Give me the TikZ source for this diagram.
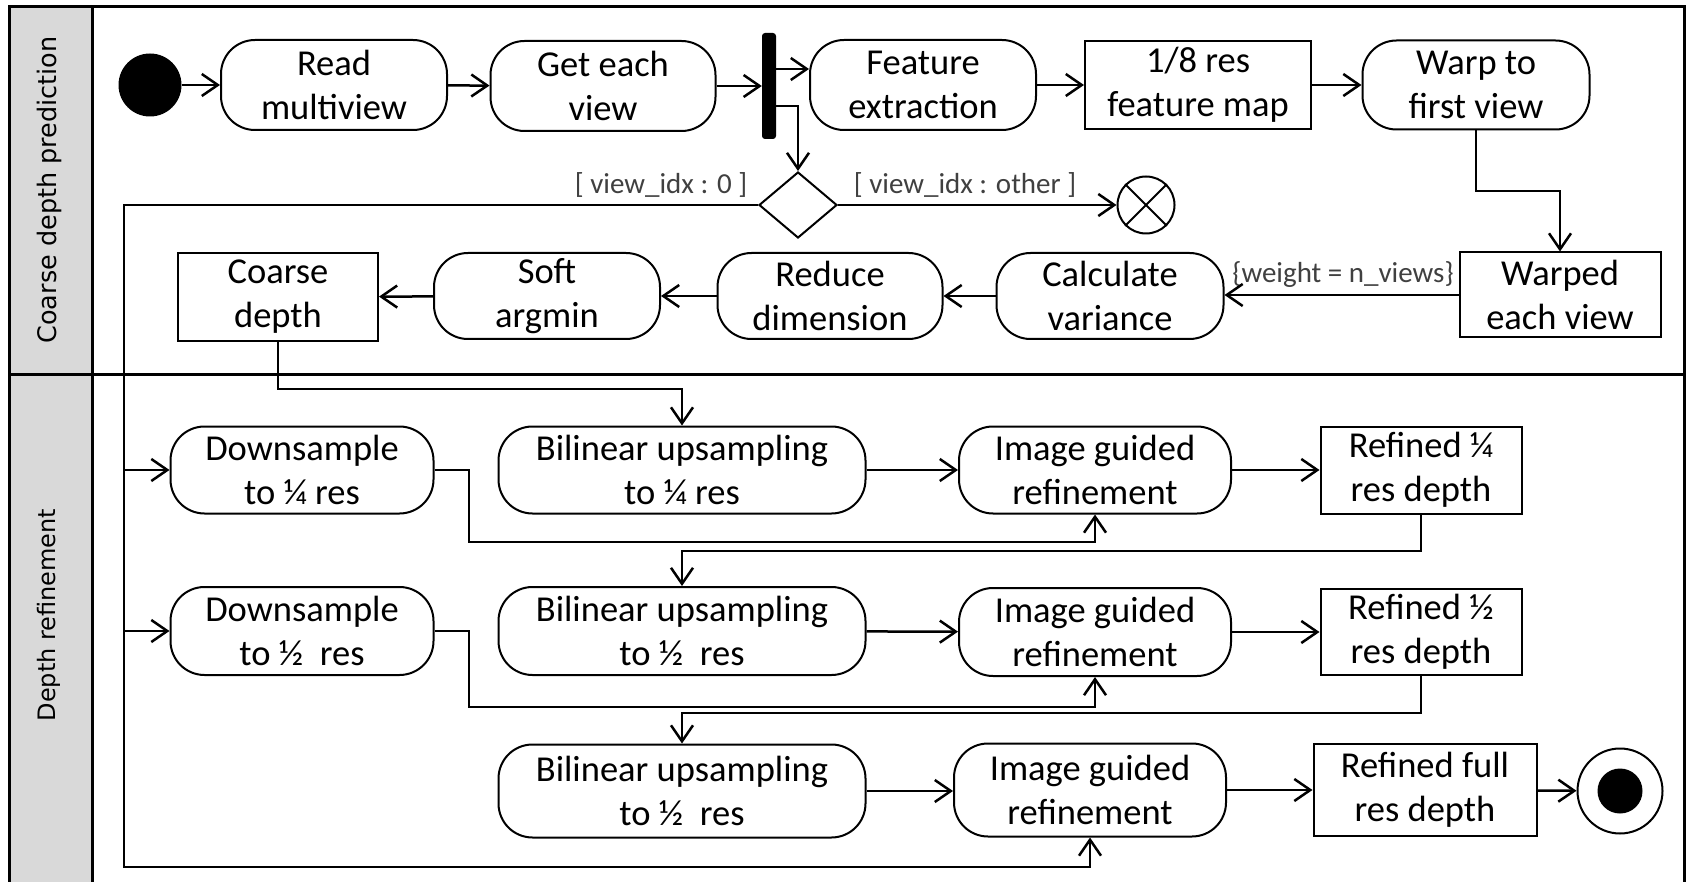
\documentclass[tikz,border=0pt]{standalone}
\usepackage{fontspec}
\setmainfont{Carlito}
\newfontfamily\lanefam{DejaVu Sans}
\usetikzlibrary{arrows.meta,shapes.geometric,calc}
\definecolor{lanegray}{HTML}{D9D9D9}
\definecolor{guardgray}{HTML}{404040}
\newcommand\actfont{\fontsize{36.5}{44}\selectfont}
\newcommand\grdfont{\fontsize{29}{34}\selectfont}
\newcommand\lnfont{\lanefam\fontsize{24}{28}\selectfont}
\tikzset{
  act/.style 2 args={draw, line width=2pt, rounded corners=34pt, minimum width=#1, minimum height=#2, align=center, inner sep=0pt, font=\actfont},
  obj/.style 2 args={draw, line width=2pt, minimum width=#1, minimum height=#2, align=center, inner sep=0pt, font=\actfont},
  conn/.style={line width=2.5pt, line join=miter, -{Straight Barb[length=16pt,width=22pt,line width=2.5pt]}},
  guard/.style={font=\grdfont, text=guardgray, inner sep=0pt},
  lanelbl/.style={font=\lnfont, rotate=90, inner sep=0pt},
  frame/.style={line width=3pt},
}
\begin{document}
\begin{tikzpicture}[x=1pt,y=-1pt]
\useasboundingbox (0,0) rectangle (1686,882);
% lanes
\fill[lanegray] (9,7) rectangle (92,882);
\draw[frame] (9,882) -- (9,7) -- (1684,7) -- (1684,882);
\draw[frame] (92,7) -- (92,882);
\draw[frame] (9,374) -- (1684,374);
\node[lanelbl, font=\lanefam\fontsize{25.5}{30}\selectfont] (lane1) at (49,190) {Coarse depth prediction};
\node[lanelbl] (lane2) at (49,615) {Depth refinement};

% top lane nodes
\node[circle, fill, minimum size=63pt, inner sep=0pt] (init) at (150,85) {};
\node[act={226pt}{90pt}] (read) at (334,85) {Read\\multiview};
\node[act={225pt}{90pt}] (get) at (603,86) {Get each\\view};
\node[fill, rounded corners=3pt, minimum width=14pt, minimum height=106pt, inner sep=0pt] (bar) at (769,86) {};
\node[act={226pt}{90pt}] (feat) at (923,85) {Feature\\extraction};
\node[obj={226pt}{88pt}] (map) at (1198,85) {1/8 res\\feature map};
\node[act={227pt}{89pt}] (warp) at (1476,85) {Warp to\\first view};
\node[diamond, draw, line width=2pt, minimum width=78pt, minimum height=66pt, inner sep=0pt] (dia) at (798,205) {};
\node[circle, draw, line width=2pt, minimum size=57pt, inner sep=0pt] (ff) at (1146,205) {};
\draw[line width=2pt] (ff.north west) -- (ff.south east) (ff.north east) -- (ff.south west);
\node[obj={201pt}{85pt}] (warped) at (1560,295) {Warped\\each view};
\node[act={227pt}{86pt}] (calc) at (1110,296) {Calculate\\variance};
\node[act={225pt}{86pt}] (reduce) at (830,296) {Reduce\\dimension};
\node[act={226pt}{86pt}] (soft) at (547,296) {Soft\\argmin};
\node[obj={200pt}{88pt}] (coarse) at (278,297) {Coarse\\depth};

\node[guard] (g0) at (661,185) {[ view\_idx : 0 ]};
\node[guard] (g1) at (965,185) {[ view\_idx : other ]};
\node[guard] (g2) at (1343,275) {\{weight = n\_views\}};

% bottom lane nodes
\node[act={263pt}{87pt}] (down1) at (302,470) {Downsample\\to ¼ res};
\node[act={367pt}{87pt}] (bil1) at (682,470) {Bilinear upsampling\\to ¼ res};
\node[act={272pt}{87pt}] (img1) at (1095,470) {Image guided\\refinement};
\node[obj={201pt}{87pt}] (ref1) at (1421,470) {Refined ¼\\res depth};
\node[act={263pt}{88pt}] (down2) at (302,631) {Downsample\\to ½~ res};
\node[act={367pt}{88pt}] (bil2) at (682,631) {Bilinear upsampling\\to ½~ res};
\node[act={272pt}{88pt}] (img2) at (1095,632) {Image guided\\refinement};
\node[obj={201pt}{86pt}] (ref2) at (1421,632) {Refined ½\\res depth};
\node[act={367pt}{93pt}] (bil3) at (682,791) {Bilinear upsampling\\to ½~ res};
\node[act={272pt}{93pt}] (img3) at (1090,790) {Image guided\\refinement};
\node[obj={223pt}{92pt}] (ref3) at (1425,790) {Refined full\\res depth};
\node[circle, draw, line width=2pt, minimum size=85pt, inner sep=0pt] (fin) at (1620,791) {};
\node[circle, fill, minimum size=45pt, inner sep=0pt] (finin) at (fin.center) {};

% helper coordinates
\coordinate (wm) at ($(warp.south)!0.5!(warped.north)$);
\coordinate (t0) at (124,205);
\coordinate (t1) at (124,867);
\coordinate (k1) at (682,389);
\coordinate (k2) at (469,542);
\coordinate (k3) at (682,551);
\coordinate (k4) at (469,707);
\coordinate (k5) at (682,713);

% connectors top lane
\draw[conn] (init) -- (read);
\draw[conn] (read) -- (get);
\draw[conn] (get.east) -- (bar.west |- get.east);
\draw[conn] ([yshift=17pt]bar.east) -- ([yshift=16pt]feat.west);
\draw[conn] ([yshift=-20pt]bar.east) -| (dia.north);
\draw[conn] (dia.east) -- (ff.west);
\draw[conn] (feat) -- (map);
\draw[conn] (map) -- (warp);
\draw[conn] (warp.south) |- (wm) -| (warped.north);
\draw[conn] (warped.west) -- (warped.west -| calc.east);
\draw[conn] (calc) -- (reduce);
\draw[conn] (reduce) -- (soft);
\draw[conn] (soft) -- (coarse);

% trunk
\draw[conn] (dia.west) -- (t0) -- (t1) -| (img3.south);
\draw[conn] (t0 |- down1.west) -- (down1.west);
\draw[conn] (t0 |- down2.west) -- (down2.west);

% bottom lane connectors
\draw[conn] (coarse.south) |- (k1) -- (bil1.north);
\draw[conn] (down1.east) -| (k2) -| (img1.south);
\draw[conn] (bil1) -- (img1);
\draw[conn] (img1) -- (ref1);
\draw[conn] (ref1.south) |- (k3) -- (bil2.north);
\draw[conn] (down2.east) -| (k4) -| (img2.south);
\draw[conn] (bil2) -- (img2);
\draw[conn] (img2) -- (ref2);
\draw[conn] (ref2.south) |- (k5) -- (bil3.north);
\draw[conn] (bil3.east) -- (bil3.east -| img3.west);
\draw[conn] (img3) -- (ref3);
\draw[conn] (ref3) -- (fin);
\end{tikzpicture}
\end{document}
